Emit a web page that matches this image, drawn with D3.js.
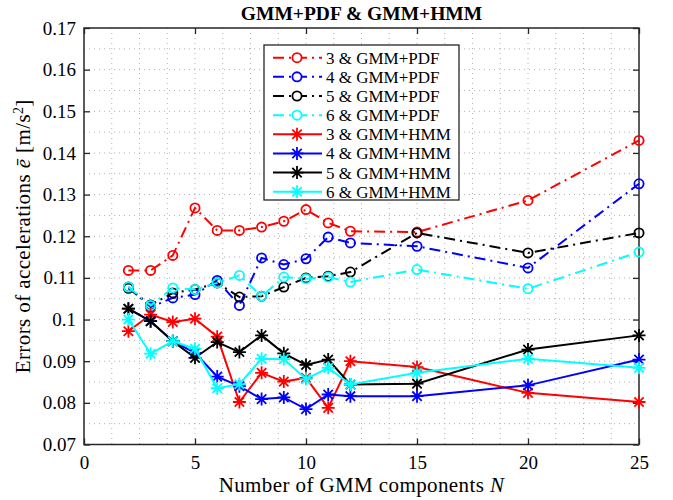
<!DOCTYPE html>
<html>
<head>
<meta charset="utf-8">
<script src="https://cdn.jsdelivr.net/npm/d3@7"></script>
<style>
  body { margin: 0; background: #fff; }
  text { font-family: "Liberation Serif", "Times New Roman", serif; }
</style>
</head>
<body>
<div id="chart"></div>
<script>
// number of GMM components
var nVals = [2, 3, 4, 5, 6, 7, 8, 9, 10, 11, 12, 15, 20, 25];

// GMM+PDF errors
var pdf3 = [0.1118, 0.1118, 0.1154, 0.1268, 0.1214, 0.1214, 0.1222, 0.1236, 0.1264, 0.1232, 0.1212, 0.1210, 0.1286, 0.1430];
var pdf4 = [0.1078, 0.1030, 0.1052, 0.1060, 0.1094, 0.1034, 0.1148, 0.1132, 0.1146, 0.1198, 0.1184, 0.1176, 0.1124, 0.1326];
var pdf5 = [0.1075, 0.1035, 0.1064, 0.1072, 0.1088, 0.1054, 0.1056, 0.1078, 0.1100, 0.1104, 0.1114, 0.1208, 0.1160, 0.1208];
var pdf6 = [0.1078, 0.1034, 0.1076, 0.1072, 0.1088, 0.1106, 0.1056, 0.1102, 0.1098, 0.1102, 0.1090, 0.1120, 0.1074, 0.1162];

// GMM+HMM errors
var hmm3 = [0.0972, 0.1012, 0.0994, 0.1002, 0.0959, 0.0802, 0.0872, 0.0851, 0.0860, 0.0788, 0.0900, 0.0886, 0.0824, 0.0802];
var hmm4 = [0.1026, 0.0996, 0.0948, 0.0920, 0.0863, 0.0840, 0.0809, 0.0813, 0.0785, 0.0820, 0.0816, 0.0816, 0.0842, 0.0904];
var hmm5 = [0.1026, 0.0996, 0.0948, 0.0908, 0.0946, 0.0922, 0.0962, 0.0919, 0.0891, 0.0904, 0.0844, 0.0846, 0.0928, 0.0962];
var hmm6 = [0.1000, 0.0918, 0.0948, 0.0930, 0.0835, 0.0845, 0.0906, 0.0905, 0.0857, 0.0884, 0.0844, 0.0872, 0.0906, 0.0884];

var seriesNames = ["3 & GMM+PDF", "4 & GMM+PDF", "5 & GMM+PDF", "6 & GMM+PDF",
                   "3 & GMM+HMM", "4 & GMM+HMM", "5 & GMM+HMM", "6 & GMM+HMM"];
var seriesValues = [pdf3, pdf4, pdf5, pdf6, hmm3, hmm4, hmm5, hmm6];
var seriesColors = ["#ff0000", "#0000ff", "#000000", "#00ffff",
                    "#ff0000", "#0000ff", "#000000", "#00ffff"];

var xTicks = [0, 5, 10, 15, 20, 25];
var yTicks = [0.07, 0.08, 0.09, 0.10, 0.11, 0.12, 0.13, 0.14, 0.15, 0.16, 0.17];

var width = 673, height = 500;
var mLeft = 84, mRight = 639, mTop = 28, mBottom = 444.5;
var axisColor = "#262626";

var svg = d3.select("#chart").append("svg")
    .attr("width", width)
    .attr("height", height);

var x = d3.scaleLinear().domain([0, 25]).range([mLeft, mRight]);
var y = d3.scaleLinear().domain([0.07, 0.17]).range([mBottom, mTop]);

// grid (major + minor, all dotted)
var gridX = d3.range(0, 25.01, 1.25);
var gridY = d3.range(0.07, 0.1701, 0.005);

svg.append("g").selectAll("line").data(gridX.slice(1, -1)).enter().append("line")
    .attr("x1", function(d){ return x(d); })
    .attr("x2", function(d){ return x(d); })
    .attr("y1", mTop).attr("y2", mBottom)
    .attr("stroke", "#b0b0b0").attr("stroke-width", 1)
    .attr("stroke-dasharray", "1,4");

svg.append("g").selectAll("line").data(gridY.slice(1, -1)).enter().append("line")
    .attr("y1", function(d){ return y(d); })
    .attr("y2", function(d){ return y(d); })
    .attr("x1", mLeft).attr("x2", mRight)
    .attr("stroke", "#b0b0b0").attr("stroke-width", 1)
    .attr("stroke-dasharray", "1,4");

// axes with inward ticks
var tickLen = 6;
svg.append("g")
    .attr("transform", "translate(0," + mBottom + ")")
    .call(d3.axisBottom(x).tickValues(xTicks).tickSizeInner(-tickLen).tickSizeOuter(0).tickPadding(11).tickFormat(d3.format("d")))
    .call(function(g){
        g.select(".domain").remove();
        g.selectAll("line").attr("stroke", axisColor).attr("stroke-width", 1.3);
        g.selectAll("text").attr("font-size", 19).attr("fill", "#000").attr("font-family", "Liberation Serif");
    });

svg.append("g")
    .attr("transform", "translate(0," + mTop + ")")
    .call(d3.axisTop(x).tickValues(xTicks).tickSizeInner(-tickLen).tickSizeOuter(0).tickFormat(""))
    .call(function(g){
        g.select(".domain").remove();
        g.selectAll("line").attr("stroke", axisColor).attr("stroke-width", 1.3);
    });

svg.append("g")
    .attr("transform", "translate(" + mLeft + ",0)")
    .call(d3.axisLeft(y).tickValues(yTicks).tickSizeInner(-tickLen).tickSizeOuter(0).tickPadding(8)
        .tickFormat(function(d){ return d3.format(".2f")(d).replace(/0$/, ""); }))
    .call(function(g){
        g.select(".domain").remove();
        g.selectAll("line").attr("stroke", axisColor).attr("stroke-width", 1.3);
        g.selectAll("text").attr("font-size", 19).attr("fill", "#000").attr("font-family", "Liberation Serif");
    });

svg.append("g")
    .attr("transform", "translate(" + mRight + ",0)")
    .call(d3.axisRight(y).tickValues(yTicks).tickSizeInner(-tickLen).tickSizeOuter(0).tickFormat(""))
    .call(function(g){
        g.select(".domain").remove();
        g.selectAll("line").attr("stroke", axisColor).attr("stroke-width", 1.3);
    });

// box
svg.append("rect")
    .attr("x", mLeft).attr("y", mTop)
    .attr("width", mRight - mLeft).attr("height", mBottom - mTop)
    .attr("fill", "none").attr("stroke", axisColor).attr("stroke-width", 1.5);

// markers
function drawCircle(g, cx, cy, color){
    g.append("circle").attr("cx", cx).attr("cy", cy).attr("r", 4.6)
        .attr("fill", "none").attr("stroke", color).attr("stroke-width", 1.8);
}
function drawStar(g, cx, cy, color){
    var s = 6.5, d = s * 0.72;
    var p = "M" + (cx - s) + "," + cy + "L" + (cx + s) + "," + cy +
            "M" + cx + "," + (cy - s) + "L" + cx + "," + (cy + s) +
            "M" + (cx - d) + "," + (cy - d) + "L" + (cx + d) + "," + (cy + d) +
            "M" + (cx - d) + "," + (cy + d) + "L" + (cx + d) + "," + (cy - d);
    g.append("path").attr("d", p).attr("stroke", color).attr("stroke-width", 1.8).attr("fill", "none");
}

var line = d3.line()
    .x(function(d){ return x(d[0]); })
    .y(function(d){ return y(d[1]); });

var plot = svg.append("g");
seriesValues.forEach(function(vals, i){
    var pts = nVals.map(function(n, j){ return [n, vals[j]]; });
    var isPdf = i < 4;
    var g = plot.append("g");
    g.append("path")
        .datum(pts)
        .attr("d", line)
        .attr("fill", "none")
        .attr("stroke", seriesColors[i])
        .attr("stroke-width", 2)
        .attr("stroke-dasharray", isPdf ? "11,5,2,5" : null);
    pts.forEach(function(p){
        if (isPdf) drawCircle(g, x(p[0]), y(p[1]), seriesColors[i]);
        else drawStar(g, x(p[0]), y(p[1]), seriesColors[i]);
    });
});

// legend
var lgX = 264, lgY = 45, lgW = 195, lgH = 155;
var legend = svg.append("g");
legend.append("rect")
    .attr("x", lgX).attr("y", lgY).attr("width", lgW).attr("height", lgH)
    .attr("fill", "#fff").attr("stroke", axisColor).attr("stroke-width", 1.3);

seriesNames.forEach(function(name, i){
    var ry = 57.7 + i * 19.15;
    var isPdf = i < 4;
    legend.append("line")
        .attr("x1", 273).attr("x2", 322).attr("y1", ry).attr("y2", ry)
        .attr("stroke", seriesColors[i]).attr("stroke-width", 2)
        .attr("stroke-dasharray", isPdf ? "11,5,2,5" : null);
    if (isPdf) {
        legend.append("circle").attr("cx", 297).attr("cy", ry).attr("r", 4.6)
            .attr("fill", "#fff").attr("stroke", seriesColors[i]).attr("stroke-width", 1.8);
    } else {
        drawStar(legend, 297, ry, seriesColors[i]);
    }
    legend.append("text")
        .attr("x", 326).attr("y", ry + 6)
        .attr("font-size", 17)
        .text(name);
});

// title
svg.append("text")
    .attr("x", (mLeft + mRight) / 2).attr("y", 20)
    .attr("text-anchor", "middle")
    .attr("font-size", 19.5).attr("font-weight", "bold")
    .text("GMM+PDF & GMM+HMM");

// x label
var xl = svg.append("text")
    .attr("x", (mLeft + mRight) / 2).attr("y", 492)
    .attr("text-anchor", "middle")
    .attr("font-size", 21).attr("letter-spacing", 0.4);
xl.append("tspan").text("Number of GMM components ");
xl.append("tspan").attr("font-style", "italic").text("N");

// y label
var yl = svg.append("text")
    .attr("transform", "translate(30," + ((mTop + mBottom) / 2) + ") rotate(-90)")
    .attr("text-anchor", "middle")
    .attr("font-size", 21).attr("letter-spacing", 0.4);
yl.append("tspan").text("Errors of accelerations ");
yl.append("tspan").attr("font-style", "italic").text("e\u0304");
yl.append("tspan").text(" [m/s");
yl.append("tspan").attr("baseline-shift", "super").attr("font-size", 14).text("2");
yl.append("tspan").text("]");
</script>
</body>
</html>
